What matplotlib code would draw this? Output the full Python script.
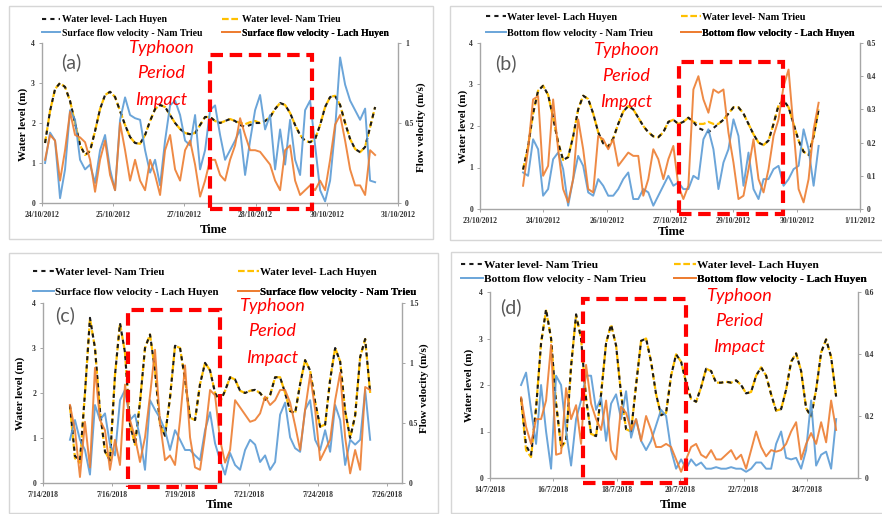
import numpy as np
import matplotlib
matplotlib.use('Agg')
import matplotlib.pyplot as plt
from matplotlib.patches import Rectangle

W, H = 882, 514
fig = plt.figure(figsize=(8.82, 5.14), dpi=100)
SERIF = 'Liberation Serif'
SANS = 'Lato'
AX_C = '#A6A6A6'
BLUE = '#5B9BD5'
ORANGE = '#ED7D31'
GOLD = '#FFC000'

# ---------------- DATA ----------------
# (a) Oct 2012, surface velocity
t_a = np.linspace(24.06, 30.55, 67)
wl_lh_a = [1.5,2.3,2.85,3.0,2.9,2.55,2.0,1.45,1.2,1.3,
           1.8,2.35,2.7,2.78,2.65,2.3,1.95,1.65,1.5,1.48,
           1.7,2.05,2.35,2.45,2.4,2.2,2.0,1.85,1.75,1.72,
           1.75,1.95,2.15,2.15,2.05,2.0,2.05,2.1,2.05,1.95,
           1.9,1.95,2.0,2.0,2.05,2.15,2.35,2.5,2.45,2.25,
           1.95,1.7,1.55,1.52,1.6,1.95,2.4,2.65,2.68,2.45,
           2.0,1.6,1.35,1.27,1.4,1.9,2.4]
wl_nt_a = [1.5,2.3,2.85,3.0,2.9,2.55,2.0,1.45,1.2,1.3,
           1.8,2.35,2.7,2.78,2.65,2.3,1.95,1.65,1.5,1.48,
           1.7,2.05,2.35,2.45,2.4,2.2,2.0,1.85,1.75,1.72,
           1.75,1.95,2.15,2.15,2.05,2.0,2.05,2.1,2.05,2.0,
           1.97,2.02,2.05,2.0,2.05,2.15,2.35,2.5,2.45,2.25,
           1.95,1.7,1.55,1.52,1.6,1.95,2.4,2.65,2.68,2.45,
           2.0,1.6,1.35,1.27,1.4,1.9,2.4]
v_nt_a = [0.25,0.44,0.39,0.03,0.21,0.58,0.52,0.27,0.21,0.24,
          0.125,0.33,0.425,0.21,0.08,0.52,0.66,0.55,0.53,0.52,
          0.33,0.19,0.27,0.11,0.39,0.61,0.64,0.55,0.39,0.36,
          0.55,0.21,0.33,0.58,0.61,0.425,0.27,0.33,0.39,0.46,
          0.175,0.39,0.58,0.675,0.46,0.55,0.21,0.46,0.24,0.52,
          0.27,0.175,0.58,0.64,0.36,0.08,0.01,0.14,0.46,0.91,
          0.74,0.64,0.58,0.52,0.59,0.14,0.13]
v_lh_a = [0.27,0.425,0.39,0.14,0.33,0.57,0.425,0.41,0.38,0.27,
          0.07,0.27,0.39,0.175,0.08,0.5,0.33,0.14,0.27,0.14,
          0.08,0.27,0.175,0.05,0.33,0.425,0.21,0.14,0.33,0.39,
          0.24,0.04,0.14,0.27,0.27,0.175,0.14,0.27,0.36,0.53,
          0.425,0.33,0.33,0.32,0.28,0.24,0.14,0.08,0.33,0.36,
          0.14,0.05,0.08,0.11,0.08,0.14,0.08,0.27,0.49,0.55,
          0.39,0.21,0.11,0.11,0.05,0.33,0.3]
ticks_a = ['24/10/2012','25/10/2012','27/10/2012','28/10/2012','30/10/2012','31/10/2012']

# (b) Oct 2012, bottom velocity
t_b = np.linspace(24.02, 31.02, 60)
wl_lh_b = [0.95,1.5,2.3,2.85,2.97,2.75,2.2,1.6,1.18,1.25,
           1.75,2.4,2.73,2.65,2.3,1.85,1.58,1.5,1.7,2.05,
           2.35,2.48,2.4,2.2,2.0,1.85,1.75,1.73,1.85,2.1,
           2.15,2.05,2.1,2.2,2.1,1.95,1.9,1.85,1.95,2.05,
           2.15,2.3,2.45,2.45,2.3,2.05,1.8,1.6,1.54,1.65,
           2.05,2.5,2.62,2.45,2.05,1.65,1.38,1.3,1.75,2.4]
wl_nt_b = [0.95,1.5,2.3,2.85,2.97,2.75,2.2,1.6,1.18,1.25,
           1.75,2.4,2.73,2.65,2.3,1.85,1.58,1.5,1.7,2.05,
           2.35,2.48,2.4,2.2,2.0,1.85,1.75,1.73,1.85,2.1,
           2.15,2.05,2.1,2.2,2.1,2.05,2.05,2.1,2.05,2.05,
           2.15,2.3,2.45,2.45,2.3,2.05,1.8,1.6,1.54,1.65,
           2.05,2.5,2.62,2.45,2.05,1.65,1.38,1.3,1.75,2.4]
v_nt_b = [0.11,0.10,0.21,0.18,0.04,0.06,0.15,0.17,0.12,0.01,
          0.09,0.16,0.13,0.05,0.04,0.09,0.07,0.04,0.04,0.06,
          0.09,0.11,0.03,0.03,0.06,0.05,0.01,0.04,0.07,0.10,
          0.07,0.08,0.06,0.06,0.10,0.09,0.21,0.24,0.18,0.06,
          0.14,0.18,0.27,0.22,0.07,0.17,0.06,0.03,0.09,0.09,
          0.12,0.13,0.07,0.09,0.12,0.13,0.24,0.18,0.07,0.19]
v_lh_b = [0.07,0.18,0.33,0.34,0.10,0.13,0.33,0.18,0.06,0.02,
          0.09,0.27,0.18,0.06,0.05,0.22,0.21,0.18,0.21,0.13,
          0.15,0.17,0.16,0.16,0.04,0.09,0.18,0.15,0.09,0.15,
          0.19,0.07,0.03,0.07,0.36,0.40,0.33,0.29,0.36,0.35,
          0.36,0.23,0.14,0.03,0.04,0.12,0.21,0.09,0.05,0.12,
          0.22,0.27,0.37,0.42,0.24,0.06,0.02,0.09,0.24,0.32]
ticks_b = ['23/10/2012','24/10/2012','26/10/2012','27/10/2012','29/10/2012','30/10/2012','1/11/2012']

# (c) July 2018, surface velocity
t_c = np.linspace(14.94, 25.41, 61)
wl_nt_c = [1.73,0.6,0.5,2.0,3.67,3.0,1.6,0.7,0.5,2.4,
           3.55,2.9,1.3,0.85,1.8,3.0,3.3,2.5,1.3,1.05,
           1.9,3.05,3.0,2.3,1.45,1.4,2.2,2.67,2.5,2.0,
           1.8,2.05,2.35,2.3,2.05,2.0,2.05,2.07,2.0,1.85,
           1.95,2.35,2.35,2.0,1.6,1.55,2.2,2.73,2.5,1.8,
           1.25,1.3,2.3,3.0,2.7,1.6,1.0,1.5,2.8,3.2,
           2.0]
wl_lh_c = [1.7,0.55,0.45,2.0,3.65,3.0,1.6,0.7,0.5,2.4,
           3.55,2.9,1.3,0.85,1.8,3.0,3.3,2.5,1.3,1.05,
           1.9,3.05,3.0,2.3,1.45,1.4,2.2,2.67,2.5,2.0,
           1.8,2.05,2.35,2.3,2.05,2.0,2.05,2.07,2.0,1.85,
           1.95,2.35,2.35,2.0,1.6,1.55,2.2,2.73,2.5,1.8,
           1.25,1.3,2.3,3.0,2.7,1.6,1.0,1.5,2.8,3.2,
           2.0]
v_lh_c = [0.36,0.525,0.36,0.275,0.07,0.65,0.525,0.58,0.32,0.23,
          0.69,0.775,0.525,0.57,0.38,0.11,0.69,0.61,0.54,0.44,
          0.275,0.44,0.36,0.275,0.275,0.23,0.19,0.44,0.59,0.33,
          0.19,0.07,0.25,0.15,0.11,0.275,0.36,0.32,0.175,0.23,
          0.11,0.175,0.57,0.67,0.38,0.29,0.26,0.61,0.69,0.36,
          0.275,0.44,0.26,0.65,0.525,0.15,0.36,0.32,0.36,0.775,
          0.36]
v_nt_c = [0.65,0.44,0.05,0.51,0.13,0.96,0.525,0.44,0.11,0.36,
          0.15,0.82,0.525,0.38,0.175,0.38,0.73,1.11,0.5,0.19,
          0.23,0.15,0.525,0.98,0.38,0.13,0.11,0.4,0.775,0.73,
          0.36,0.17,0.275,0.69,0.63,0.57,0.51,0.525,0.58,0.72,
          0.65,0.69,0.775,0.775,0.67,0.48,0.275,0.61,0.9,0.61,
          0.19,0.275,0.36,0.69,0.92,0.38,0.08,0.275,0.11,0.8,
          0.775]
ticks_c = ['7/14/2018','7/16/2018','7/19/2018','7/21/2018','7/24/2018','7/26/2018']

# (d) July 2018, bottom velocity
t_d = np.linspace(14.98, 24.92, 64)
wl_nt_d = [1.73,0.7,0.5,1.5,2.9,3.63,3.0,1.6,0.7,0.8,
           2.4,3.52,3.0,1.7,0.95,0.9,1.8,2.9,3.3,2.85,
           1.8,1.05,1.0,2.0,2.95,3.0,2.5,1.8,1.35,1.4,
           2.2,2.66,2.5,2.05,1.7,1.64,1.95,2.35,2.3,2.05,
           2.05,2.07,2.05,2.1,2.0,1.82,1.85,2.2,2.38,2.2,
           1.8,1.45,1.48,1.9,2.5,2.68,2.3,1.5,1.32,1.9,
           2.7,2.98,2.6,1.75]
wl_lh_d = [1.7,0.6,0.45,1.5,2.9,3.6,3.0,1.6,0.65,0.8,
           2.4,3.5,3.0,1.7,0.95,0.9,1.8,2.9,3.3,2.85,
           1.8,1.05,1.0,2.0,2.95,3.0,2.5,1.8,1.35,1.4,
           2.2,2.66,2.5,2.05,1.7,1.64,1.95,2.35,2.3,2.05,
           2.05,2.07,2.05,2.1,2.0,1.82,1.85,2.2,2.38,2.2,
           1.8,1.45,1.48,1.9,2.5,2.68,2.3,1.5,1.32,1.9,
           2.7,2.98,2.6,1.75]
v_nt_d = [0.30,0.34,0.22,0.11,0.30,0.15,0.03,0.33,0.30,0.15,
          0.04,0.19,0.25,0.33,0.33,0.22,0.26,0.12,0.24,0.27,
          0.19,0.28,0.13,0.19,0.12,0.09,0.12,0.17,0.22,0.20,
          0.09,0.03,0.06,0.03,0.06,0.04,0.05,0.03,0.03,0.035,
          0.03,0.03,0.035,0.03,0.03,0.02,0.03,0.05,0.05,0.03,
          0.03,0.11,0.15,0.065,0.06,0.065,0.03,0.09,0.25,0.04,
          0.075,0.085,0.03,0.19]
v_lh_d = [0.26,0.165,0.11,0.19,0.19,0.25,0.43,0.075,0.08,0.29,
          0.19,0.235,0.11,0.365,0.24,0.19,0.155,0.25,0.09,0.06,
          0.23,0.21,0.155,0.19,0.12,0.20,0.155,0.10,0.10,0.11,
          0.10,0.06,0.02,0.06,0.10,0.11,0.075,0.065,0.09,0.06,
          0.06,0.075,0.09,0.06,0.075,0.03,0.09,0.15,0.10,0.07,
          0.09,0.085,0.09,0.11,0.15,0.18,0.06,0.11,0.145,0.11,
          0.18,0.115,0.25,0.155]
ticks_d = ['14/7/2018','16/7/2018','18/7/2018','20/7/2018','22/7/2018','24/7/2018']

# ---------------- HELPERS ----------------
def fx(px):
    return px / W

def fy(py):
    return 1 - py / H

def frame(x0, y0, x1, y1):
    fig.patches.append(Rectangle((fx(x0), fy(y1)), (x1 - x0) / W, (y1 - y0) / H,
                                 transform=fig.transFigure, fill=False,
                                 edgecolor='#D6D6D6', lw=1.0))

def red_box(x0, y0, x1, y1):
    fig.patches.append(Rectangle((fx(x0), fy(y1)), (x1 - x0) / W, (y1 - y0) / H,
                                 transform=fig.transFigure, fill=False,
                                 edgecolor='#FF0000', lw=3.0, ls=(0, (3, 1.6)), zorder=10))

def typhoon(xc, ys):
    for txt, y in zip(['Typhoon', 'Period', 'Impact'], ys):
        fig.text(fx(xc), fy(y), txt, color='#FF0000', fontsize=13, fontstyle='italic',
                 family=SANS, ha='center', va='center', zorder=11)

TICKFONT = {'family': SERIF, 'weight': 'bold', 'size': 5.5}

def panel(box, xlim, tick0, step, tlabels, rmax, rstep, rfmt,
          t, wl_k, wl_y, v_b, v_o):
    x0, y0, x1, y1 = box
    ax = fig.add_axes([fx(x0), fy(y1), (x1 - x0) / W, (y1 - y0) / H])
    ax.set_facecolor('none')
    ly, = ax.plot(t, wl_y, color=GOLD, lw=1.6, ls=(0, (3, 1.2)))
    lk, = ax.plot(t, wl_k, color='#1A1A1A', lw=1.5, ls=(0, (2, 2)))
    ax.set_xlim(*xlim)
    ax.set_ylim(0, 4)
    xt = [tick0 + step * k for k in range(len(tlabels))]
    ax.set_xticks(xt)
    ax.set_xticklabels(tlabels, fontdict=TICKFONT)
    ax.set_yticks([0, 1, 2, 3, 4])
    ax.set_yticklabels(['0', '1', '2', '3', '4'], fontdict=TICKFONT)
    ax2 = ax.twinx()
    lb, = ax2.plot(t, v_b, color=BLUE, lw=1.4, alpha=0.9)
    lo, = ax2.plot(t, v_o, color=ORANGE, lw=1.4, alpha=0.9)
    ax2.set_ylim(0, rmax)
    rt = [rstep * k for k in range(int(round(rmax / rstep)) + 1)]
    ax2.set_yticks(rt)
    ax2.set_yticklabels([rfmt(v) for v in rt], fontdict=TICKFONT)
    for a in (ax, ax2):
        for s in a.spines.values():
            s.set_visible(False)
        a.tick_params(colors=AX_C, labelcolor='#333333', length=2.5, width=0.7, pad=2.5)
    ax.spines['left'].set_visible(True)
    ax.spines['bottom'].set_visible(True)
    ax2.spines['right'].set_visible(True)
    for s in (ax.spines['left'], ax.spines['bottom'], ax2.spines['right']):
        s.set_color(AX_C)
        s.set_linewidth(1.0)
    ax.tick_params(axis='x', pad=3.5)
    return ax, ax2, (lk, ly, lb, lo)

def entry(ax, h, label, x, y, fs, hl):
    leg = ax.legend([h], [label], loc='center left', bbox_to_anchor=(fx(x), fy(y)),
                    bbox_transform=fig.transFigure, frameon=False, borderpad=0,
                    borderaxespad=0, handlelength=hl, handletextpad=0.15,
                    prop={'family': SERIF, 'weight': 'bold', 'size': fs})
    ax.add_artist(leg)

def legend4(ax, handles, labels, cx, rows, fs, hl):
    lk, ly, lb, lo = handles
    entry(ax, lk, labels[0], cx[0], rows[0], fs, hl)
    entry(ax, lb, labels[1], cx[0], rows[1], fs, hl)
    entry(ax, ly, labels[2], cx[1], rows[0], fs, hl)
    entry(ax, lo, labels[3], cx[1], rows[1], fs, hl)

def labels(xlab, xl_y, wl_xy, fv_xy):
    fig.text(fx(xlab), fy(xl_y), 'Time', family=SERIF, weight='bold', fontsize=9,
             ha='center', va='center')
    fig.text(fx(wl_xy[0]), fy(wl_xy[1]), 'Water level (m)', family=SERIF, weight='bold',
             fontsize=8, rotation=90, ha='center', va='center')
    if fv_xy is not None:
        fig.text(fx(fv_xy[0]), fy(fv_xy[1]), 'Flow velocity (m/s)', family=SERIF,
                 weight='bold', fontsize=8, rotation=90, ha='center', va='center')

def tag(txt, x, y):
    fig.text(fx(x), fy(y), txt, family=SANS, fontsize=14, color='#595959',
             ha='center', va='center')

def fmt_a(v):
    return '0' if v == 0 else ('%g' % v)

# ---------------- PANELS ----------------
frame(9, 6, 433, 239)
frame(450, 6, 890, 240)
frame(9, 253, 438, 513)
frame(451, 252, 890, 513)

# (a)
ax, ax2, hs = panel((42, 43, 398, 203), (24, 31), 24, 1.4, ticks_a, 1.0, 0.5, fmt_a,
                    t_a, wl_lh_a, wl_nt_a, v_nt_a, v_lh_a)
legend4(ax2, hs, ['Water level- Lach Huyen', 'Surface flow velocity - Nam Trieu',
                  'Water level- Nam Trieu', 'Surface flow velocity - Lach Huyen'],
        (42, 222), (20, 33), 7, 1.9)
labels(213, 230, (23, 124), (421, 127))
tag('(a)', 71, 62)
red_box(210, 55, 312, 209)
typhoon(161, (48, 73, 100))

# (b)
ax, ax2, hs = panel((480, 43, 860, 209), (23, 32), 23, 1.5, ticks_b, 0.5, 0.1, lambda v: '%g' % round(v, 1),
                    t_b, wl_lh_b, wl_nt_b, v_nt_b, v_lh_b)
legend4(ax2, hs, ['Water level- Lach Huyen', 'Bottom flow velocity - Nam Trieu',
                  'Water level- Nam Trieu', 'Bottom flow velocity - Lach Huyen'],
        (486, 681), (17, 33), 7.4, 1.9)
labels(671, 232, (463, 126), None)
tag('(b)', 506, 63)
red_box(679, 62, 783, 214)
typhoon(626, (50, 76, 102))

# (c)
ax, ax2, hs = panel((43, 303, 402, 483), (14, 26.52), 14, 2.4, ticks_c, 1.5, 0.5, fmt_a,
                    t_c, wl_nt_c, wl_lh_c, v_lh_c, v_nt_c)
legend4(ax2, hs, ['Water level- Nam Trieu', 'Surface flow velocity - Lach Huyen',
                  'Water level- Lach Huyen', 'Surface flow velocity - Nam Trieu'],
        (33, 238), (272, 292), 7.8, 1.9)
labels(220, 505, (20, 393), (424, 388))
tag('(c)', 65, 315)
red_box(128, 310, 220, 487)
typhoon(272, (306, 331, 358))

# (d)
ax, ax2, hs = panel((490, 292, 858, 478), (14, 25.61), 14, 2.0, ticks_d, 0.6, 0.2, lambda v: '%g' % round(v, 1),
                    t_d, wl_nt_d, wl_lh_d, v_nt_d, v_lh_d)
legend4(ax2, hs, ['Water level- Nam Trieu', 'Bottom flow velocity - Nam Trieu',
                  'Water level- Lach Huyen', 'Bottom flow velocity - Lach Huyen'],
        (461, 674), (265, 279), 8.2, 1.9)
labels(674, 505, (469, 385), None)
tag('(d)', 511, 307)
red_box(583, 299, 686, 483)
typhoon(739, (296, 321, 347))

fig.savefig('out.png', dpi=100)
